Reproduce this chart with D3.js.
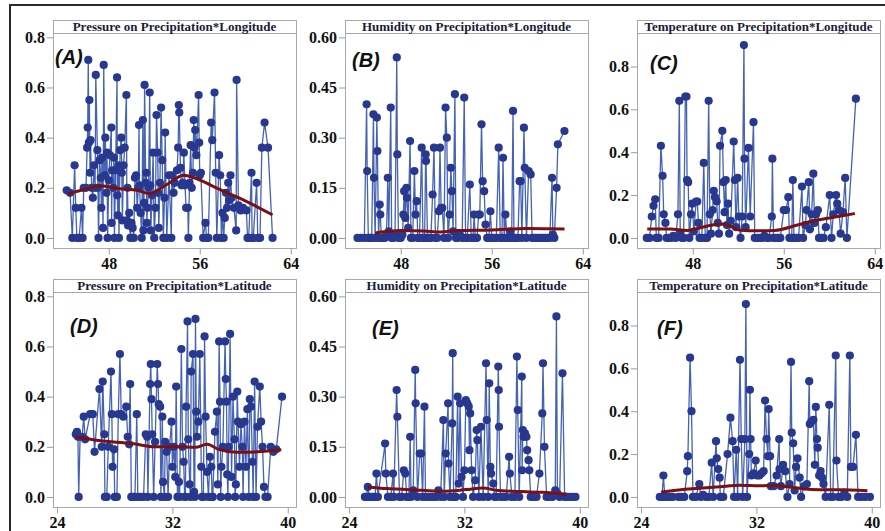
<!DOCTYPE html>
<html>
<head>
<meta charset="utf-8">
<script src="https://cdn.jsdelivr.net/npm/d3@7"></script>
<style>
  body { margin: 0; background: #fff; }
  .axis .tick text { font-family: "Liberation Serif", "Times New Roman", serif; font-weight: bold; font-size: 16px; fill: #111; }
  .axis line { stroke: #9a9a9a; }
  .title { font-family: "Liberation Serif", "Times New Roman", serif; font-weight: bold; font-size: 13px; fill: #1a1a3a; }
  .plabel { font-family: "Liberation Sans", Arial, sans-serif; font-weight: bold; font-style: italic; font-size: 20px; fill: #111; }
</style>
</head>
<body>
<div id="chart"></div>
<script>
// tick values
const lonTicks = [48, 56, 64];
const latTicks = [24, 32, 40];
const pressureTicks = [0, 0.2, 0.4, 0.6, 0.8];
const humidityTicks = [0, 0.15, 0.30, 0.45, 0.60];
const tempTicks = [0, 0.2, 0.4, 0.6, 0.8];

// (A) Pressure on Precipitation*Longitude  [longitude, value]
const pressureLon = [
  [44.3,.19],[44.6,.18],[44.8,0],[45.0,.29],[45.1,.12],[45.2,0],[45.4,0],[45.6,.12],[45.7,0],[45.8,.2],[46.0,.2],
  [46.1,.36],[46.15,.44],[46.2,.71],[46.25,.38],[46.3,.55],[46.35,.26],[46.4,.39],[46.5,.2],[46.6,.16],[46.7,.29],
  [46.8,.2],[46.86,.65],[47.0,.35],[47.05,.2],[47.1,0],[47.2,.31],[47.3,.24],[47.35,.12],[47.4,.32],[47.5,.04],
  [47.56,.69],[47.65,.25],[47.7,.4],[47.8,.18],[47.85,.34],[47.9,0],[48.0,.23],[48.1,.33],[48.23,.44],[48.25,.06],
  [48.3,.27],[48.4,.2],[48.45,.32],[48.5,0],[48.6,.27],[48.73,.64],[48.75,.17],[48.8,.09],[48.85,.29],[48.9,0],
  [49.0,.35],[49.1,.4],[49.15,.26],[49.2,.07],[49.3,.29],[49.4,.36],[49.55,.57],[49.6,.07],[49.65,.2],[49.7,.05],
  [49.8,.1],[49.9,0],[50.0,.06],[50.1,.04],[50.2,0],[50.3,.24],[50.4,.25],[50.5,.12],[50.6,.2],[50.66,.45],[50.7,.21],
  [50.8,.1],[50.9,0],[51.0,.47],[51.05,.03],[51.1,.14],[51.15,.61],[51.25,.22],[51.3,.26],[51.35,.06],[51.4,.12],
  [51.5,.2],[51.6,.58],[51.65,.21],[51.7,.03],[51.8,.17],[51.9,.34],[52.0,0],[52.1,.12],[52.2,.49],[52.3,.34],
  [52.35,.18],[52.4,.04],[52.5,.22],[52.6,.52],[52.7,.31],[52.8,0],[52.9,.16],[52.96,.42],[53.1,0],[53.3,.25],
  [53.5,0],[53.55,.25],[53.7,.18],[53.8,.22],[54.0,.27],[54.1,.36],[54.16,.53],[54.2,.5],[54.3,.28],[54.4,.21],
  [54.5,.22],[54.6,.34],[54.7,.21],[54.8,.12],[54.95,.12],[55.0,0],[55.1,.22],[55.2,.37],[55.3,.2],[55.4,.26],
  [55.47,.47],[55.55,.36],[55.6,.43],[55.7,.33],[55.9,.57],[55.95,.38],[56.0,.25],[56.1,.26],[56.3,0],[56.5,.06],
  [56.6,0],[56.75,0],[57.0,.46],[57.1,.39],[57.3,.58],[57.4,.26],[57.5,0],[57.7,.33],[57.8,.25],[57.9,0],[58.0,.1],
  [58.1,0],[58.2,.08],[58.3,.18],[58.4,.12],[58.5,.22],[58.6,.15],[58.7,.25],[58.8,.16],[59.0,.12],[59.2,.03],
  [59.24,.63],[59.4,.13],[59.6,.11],[59.8,.12],[60.1,.11],[60.2,0],[60.3,0],[60.55,.26],[60.6,0],[60.7,0],[61.0,.22],
  [61.1,0],[61.3,0],[61.46,.36],[61.7,.46],[62.0,.36],[62.4,0]
];
const pressureLonTrend = [[44.4,.175],[46,.195],[47.3,.208],[49,.196],[50.5,.19],[51.6,.177],[53,.21],[54.6,.25],
  [55.5,.24],[57,.21],[58.5,.178],[60,.148],[61,.125],[62.4,.092]];

// (B) Humidity on Precipitation*Longitude
const humidityLon = [
  [44.2,0],[44.5,0],[44.8,0],[45.0,.40],[45.05,.20],[45.15,0],[45.3,0],[45.45,0],[45.6,.37],[45.65,.18],[45.75,0],
  [45.9,.36],[45.95,.26],[46.05,0],[46.15,.10],[46.2,.07],[46.3,0],[46.45,0],[46.6,0],[46.75,.01],[46.86,.18],
  [46.95,.02],[47.12,.39],[47.2,0],[47.35,0],[47.5,.01],[47.65,.54],[47.7,.25],[47.8,0],[48.0,0],[48.15,.01],
  [48.23,.07],[48.3,.14],[48.4,.06],[48.5,.15],[48.55,.12],[48.65,.03],[48.82,.29],[48.9,0],[49.05,0],[49.2,.20],
  [49.3,.07],[49.4,.11],[49.5,0],[49.65,0],[49.84,.27],[49.95,0],[50.1,0],[50.19,.25],[50.22,.23],[50.35,0],
  [50.5,0],[50.65,0],[50.8,.13],[50.92,.27],[51.05,0],[51.2,0],[51.35,.08],[51.45,.27],[51.55,.09],[51.65,.09],
  [51.8,0],[51.94,.39],[52.05,.30],[52.15,0],[52.3,.07],[52.4,.21],[52.5,.14],[52.6,.02],[52.76,.43],[52.85,0],
  [53.0,0],[53.2,.01],[53.4,0],[53.58,.42],[53.7,0],[53.85,0],[54.07,.16],[54.2,0],[54.35,0],[54.45,.07],[54.55,0],
  [54.7,0],[54.85,.07],[54.95,.07],[55.1,.34],[55.2,.17],[55.33,.14],[55.45,.04],[55.6,0],[55.75,0],[55.88,.08],
  [56.0,0],[56.2,0],[56.4,0],[56.61,.27],[56.75,0],[56.9,0],[56.99,.24],[57.1,0],[57.2,.07],[57.35,0],[57.5,0],
  [57.64,.02],[57.75,0],[57.87,.38],[57.95,0],[58.1,0],[58.3,0],[58.45,.17],[58.54,.17],[58.65,0],[58.83,.33],
  [58.9,.21],[59.05,0],[59.24,.20],[59.42,.19],[59.55,0],[59.7,0],[59.9,0],[60.1,0],[60.3,0],[60.5,0],[60.7,0],
  [60.9,0],[61.1,0],[61.3,.18],[61.37,.01],[61.5,0],[61.7,.15],[61.81,.28],[62.39,.32]
];
const humidityLonTrend = [[45.75,.015],[47,.02],[48,.022],[50,.021],[51.5,.018],[53,.022],[56,.024],[59,.028],[62.4,.027]];

// (C) Temperature on Precipitation*Longitude
const tempLon = [
  [43.96,0],[44.2,0],[44.4,.1],[44.55,.15],[44.7,.18],[44.8,0],[45.0,0],[45.2,.43],[45.35,.29],[45.45,.11],[45.6,.07],
  [45.7,0],[45.9,0],[46.1,0],[46.3,.01],[46.5,0],[46.7,.11],[46.82,.64],[46.9,.02],[47.05,0],[47.2,0],[47.35,.66],
  [47.45,.66],[47.5,.27],[47.6,.26],[47.7,0],[47.85,.11],[47.95,.16],[48.1,.03],[48.3,.17],[48.4,.17],[48.5,.07],
  [48.6,0],[48.8,0],[48.97,.35],[49.1,0],[49.25,0],[49.4,.64],[49.5,.11],[49.6,.02],[49.75,.13],[49.85,.22],
  [49.95,.19],[50.1,.17],[50.2,.07],[50.3,.02],[50.4,.43],[50.6,.50],[50.7,.26],[50.8,.12],[50.9,.27],[51.0,.06],
  [51.1,.16],[51.2,.02],[51.35,.08],[51.6,.45],[51.7,.27],[51.8,.05],[51.95,.28],[52.05,.1],[52.2,0],[52.35,.1],
  [52.5,.90],[52.55,.37],[52.65,.05],[52.9,.42],[53.05,.1],[53.34,.54],[53.45,0],[53.7,0],[53.9,0],[54.1,0],
  [54.3,.01],[54.5,0],[54.7,0],[54.95,.1],[55.0,.37],[55.1,0],[55.3,0],[55.5,0],[55.7,0],[56.0,.13],[56.2,.13],
  [56.4,.19],[56.5,0],[56.7,0],[56.8,.27],[56.9,0],[57.1,0],[57.3,0],[57.6,.24],[57.7,0],[57.9,.06],[58.0,.13],
  [58.2,.26],[58.3,.04],[58.45,.11],[58.6,.30],[58.7,.07],[58.85,.11],[59.0,.13],[59.1,0],[59.3,0],[59.5,0],
  [59.7,.05],[60.04,.20],[60.2,0],[60.35,.11],[60.6,.20],[60.7,.16],[60.85,.13],[61.0,.02],[61.2,.12],[61.4,.28],
  [61.55,0],[62.34,.65]
];
const tempLonTrend = [[44,.042],[46,.042],[47.5,.035],[49.3,.056],[50.7,.065],[52.2,.036],[53.7,.033],[55.2,.035],
  [57.2,.06],[58.7,.081],[60.8,.1],[62.25,.114]];

// (D) Pressure on Precipitation*Latitude  [latitude, value]
const pressureLat = [
  [25.3,.25],[25.38,.26],[25.45,.24],[25.5,0],[25.6,.24],[25.74,.24],[25.85,.32],[25.95,.23],[26.3,.33],[26.48,.33],
  [26.6,.18],[26.94,.43],[27.1,.2],[27.17,.46],[27.28,.25],[27.32,0],[27.45,0],[27.55,.2],[27.74,.5],[27.8,.33],
  [27.85,.12],[27.95,.19],[28.0,0],[28.15,0],[28.25,.33],[28.36,.57],[28.45,.33],[28.6,.32],[28.8,.36],[28.9,.24],
  [29.0,.21],[29.07,.45],[29.15,0],[29.25,0],[29.4,0],[29.53,.33],[29.6,0],[29.8,0],[30.0,0],[30.15,.25],[30.25,.24],
  [30.3,0],[30.45,.45],[30.5,.53],[30.55,.39],[30.6,.25],[30.7,0],[30.8,.22],[30.95,.53],[31.0,.45],[31.05,.37],
  [31.15,.36],[31.2,0],[31.3,.32],[31.35,.06],[31.45,0],[31.5,.22],[31.6,.18],[31.7,0],[31.8,.2],[31.94,.3],[32.0,.12],
  [32.1,.2],[32.2,.08],[32.26,.44],[32.35,0],[32.45,.06],[32.5,0],[32.62,.59],[32.7,.2],[32.78,.14],[32.85,0],[32.9,0],
  [32.95,.36],[33.05,.7],[33.1,.23],[33.2,.05],[33.25,0],[33.3,.5],[33.43,.57],[33.5,.02],[33.55,0],[33.6,.71],
  [33.65,.34],[33.7,.24],[33.8,.3],[33.9,.57],[34.0,.12],[34.05,0],[34.15,0],[34.23,.64],[34.3,.32],[34.4,.1],[34.5,0],
  [34.6,.16],[34.7,.12],[34.75,0],[34.8,0],[34.95,.26],[35.08,.34],[35.15,.05],[35.24,.62],[35.3,.38],[35.35,0],
  [35.4,.12],[35.5,.2],[35.65,.62],[35.7,.47],[35.75,.38],[35.8,.09],[35.85,0],[35.9,.2],[36.0,.65],[36.1,.08],
  [36.2,.4],[36.3,.23],[36.35,0],[36.4,.05],[36.5,.42],[36.55,.3],[36.65,.12],[36.75,.29],[36.85,.2],[36.9,0],[37.0,.3],
  [37.1,.12],[37.2,.35],[37.3,0],[37.37,.39],[37.45,.36],[37.55,.14],[37.6,0],[37.7,.46],[37.8,0],[37.9,.28],
  [38.06,.44],[38.15,.3],[38.25,.2],[38.35,.04],[38.45,0],[38.6,0],[38.82,.2],[39.0,.18],[39.2,.19],[39.6,.4]
];
const pressureLatTrend = [[25.3,.24],[26.9,.225],[29.2,.213],[30.8,.2],[32.2,.2],[33.6,.198],[34.4,.21],[35.2,.19],
  [36.5,.178],[37.9,.18],[39.55,.188]];

// (E) Humidity on Precipitation*Latitude
const humidityLat = [
  [25.1,0],[25.2,0],[25.3,.03],[25.4,0],[25.5,0],[25.65,0],[25.8,0],[25.9,.07],[26.0,0],[26.5,.16],[26.55,.07],
  [26.7,0],[26.9,0],[27.05,.07],[27.1,0],[27.3,.32],[27.35,.24],[27.5,0],[27.65,0],[27.8,.08],[27.9,.07],[28.0,0],
  [28.15,0],[28.24,.18],[28.3,0],[28.45,.02],[28.59,.38],[28.62,.28],[28.75,0],[28.9,.13],[29.0,.13],[29.1,0],
  [29.23,.27],[29.3,0],[29.5,0],[29.7,0],[29.9,0],[30.05,0],[30.2,.02],[30.35,0],[30.54,.23],[30.6,0],[30.7,.13],
  [30.87,.28],[30.9,.1],[31.0,0],[31.15,.22],[31.19,.43],[31.25,0],[31.4,0],[31.53,.30],[31.6,.04],[31.7,.28],
  [31.8,.06],[31.9,0],[32.0,.08],[32.1,.29],[32.2,.28],[32.3,.27],[32.35,.14],[32.4,.25],[32.5,.08],[32.6,0],
  [32.75,.05],[32.85,.20],[32.9,.17],[33.0,0],[33.15,.21],[33.3,0],[33.5,.40],[33.55,.23],[33.65,0],[33.72,.34],
  [33.8,.09],[33.85,.07],[34.0,.04],[34.1,0],[34.2,0],[34.35,.39],[34.38,.32],[34.4,.21],[34.5,0],[34.7,0],[34.9,0],
  [35.1,.12],[35.15,.07],[35.3,0],[35.5,0],[35.64,.42],[35.7,.26],[35.8,0],[35.98,.36],[36.0,.08],[36.05,.20],
  [36.1,.18],[36.2,.19],[36.3,.18],[36.35,.14],[36.45,.11],[36.5,.08],[36.6,0],[36.8,0],[37.0,0],[37.2,.07],
  [37.4,.25],[37.45,.40],[37.55,.15],[37.7,0],[37.9,0],[38.1,0],[38.3,.02],[38.38,.54],[38.45,.01],[38.6,0],
  [38.8,.37],[38.95,0],[39.1,0],[39.3,0],[39.5,0],[39.7,0]
];
const humidityLatTrend = [[25.3,.03],[26.6,.025],[29.1,.02],[30.5,.017],[32.1,.022],[33.3,.027],[34.2,.02],
  [36,.016],[37.4,.014],[39.1,.008]];

// (F) Temperature on Precipitation*Latitude
const tempLat = [
  [25.3,0],[25.45,0],[25.55,.10],[25.65,0],[25.8,0],[26.0,0],[26.2,0],[26.6,0],[26.8,0],[27.0,0],[27.2,.12],
  [27.25,.19],[27.4,.65],[27.5,.4],[27.6,0],[27.8,0],[28.04,.06],[28.15,0],[28.3,.01],[28.5,0],[28.7,0],[28.9,.16],
  [29.0,0],[29.2,.26],[29.25,.18],[29.35,.13],[29.45,.09],[29.5,0],[29.7,0],[30.0,.2],[30.2,.37],[30.35,.26],
  [30.45,0],[30.6,.22],[30.7,0],[30.86,.64],[30.95,.27],[31.05,0],[31.2,.27],[31.27,.90],[31.35,0],[31.5,.2],
  [31.55,.50],[31.6,.27],[31.65,.1],[31.8,.11],[31.95,.17],[32.05,.1],[32.2,.1],[32.35,.11],[32.5,.12],[32.6,.45],
  [32.7,.27],[32.8,.19],[32.85,.41],[32.95,.19],[33.0,.05],[33.2,.05],[33.4,.1],[33.58,.27],[33.6,.13],[33.7,.05],
  [33.85,.15],[34.0,.12],[34.15,0],[34.3,.06],[34.4,.63],[34.45,.30],[34.55,.25],[34.65,.03],[34.75,.14],[34.85,.18],
  [35.0,.09],[35.1,0],[35.3,.05],[35.5,.06],[35.66,.54],[35.7,.34],[35.8,.35],[35.95,.36],[36.05,.15],[36.12,.42],
  [36.2,.27],[36.25,.23],[36.35,.1],[36.45,.12],[36.55,.09],[36.65,.06],[36.8,0],[37.05,.43],[37.15,0],[37.3,0],
  [37.5,.66],[37.55,.17],[37.7,0],[37.9,0],[38.1,.02],[38.3,0],[38.48,.66],[38.55,.14],[38.7,.14],[38.9,.29],
  [39.05,0],[39.3,0],[39.55,0],[39.87,0]
];
const tempLatTrend = [[25.4,.023],[26.9,.035],[28.3,.042],[29.9,.05],[30.8,.055],[32.4,.052],[33.1,.054],[34.3,.046],
  [35.2,.038],[36.4,.034],[37.7,.034],[39.7,.029]];

document.addEventListener('DOMContentLoaded', () => {

  const W = 885, H = 531;
  const colX = [53, 345, 637];
  const rowY = [20, 279];
  const pw = 243, ph = 228, titleH = 13;

  const panels = [
    { title: "Pressure on Precipitation*Longitude", label: "(A)", data: pressureLon, trend: pressureLonTrend,
      xTicks: lonTicks, xDom: [43.1, 64.46], yTicks: pressureTicks, yDom: [-0.04, 0.869], fmt: ".1f", col: 0, row: 0, lx: 2, ly: 44 },
    { title: "Humidity on Precipitation*Longitude", label: "(B)", data: humidityLon, trend: humidityLonTrend,
      xTicks: lonTicks, xDom: [43.1, 64.46], yTicks: humidityTicks, yDom: [-0.03, 0.652], fmt: ".2f", col: 1, row: 0, lx: 7, ly: 47 },
    { title: "Temperature on Precipitation*Longitude", label: "(C)", data: tempLon, trend: tempLonTrend,
      xTicks: lonTicks, xDom: [43.1, 64.46], yTicks: tempTicks, yDom: [-0.047, 1.017], fmt: ".1f", col: 2, row: 0, lx: 13, ly: 50 },
    { title: "Pressure on Precipitation*Latitude", label: "(D)", data: pressureLat, trend: pressureLatTrend,
      xTicks: latTicks, xDom: [23.72, 40.57], yTicks: pressureTicks, yDom: [-0.04, 0.869], fmt: ".1f", col: 0, row: 1, lx: 17, ly: 54 },
    { title: "Humidity on Precipitation*Latitude", label: "(E)", data: humidityLat, trend: humidityLatTrend,
      xTicks: latTicks, xDom: [23.72, 40.57], yTicks: humidityTicks, yDom: [-0.03, 0.652], fmt: ".2f", col: 1, row: 1, lx: 27, ly: 56 },
    { title: "Temperature on Precipitation*Latitude", label: "(F)", data: tempLat, trend: tempLatTrend,
      xTicks: latTicks, xDom: [23.72, 40.57], yTicks: tempTicks, yDom: [-0.047, 1.017], fmt: ".1f", col: 2, row: 1, lx: 20, ly: 56 }
  ];

  const svg = d3.select("#chart").append("svg")
    .attr("width", W)
    .attr("height", H);

  svg.append("rect").attr("width", W).attr("height", H).attr("fill", "#fff");

  // outer frame (only top and left edges are visible)
  svg.append("path")
    .attr("d", `M10,${H} L10,5 L${W},5`)
    .attr("fill", "none")
    .attr("stroke", "#2a2a2a")
    .attr("stroke-width", 2);

  panels.forEach(p => {
    const left = colX[p.col], top = rowY[p.row];

    const x = d3.scaleLinear().domain(p.xDom).range([left, left + pw]);
    const y = d3.scaleLinear().domain(p.yDom).range([top + ph, top]);

    const g = svg.append("g");

    // plot frame
    g.append("rect")
      .attr("x", left + 0.5).attr("y", top + 0.5)
      .attr("width", pw).attr("height", ph)
      .attr("fill", "#fff")
      .attr("stroke", "#a8a8a8");

    // title strip
    g.append("rect")
      .attr("x", left + 0.5).attr("y", top + 0.5)
      .attr("width", pw).attr("height", titleH)
      .attr("fill", "#fff")
      .attr("stroke", "#a8a8a8");

    g.append("text")
      .attr("class", "title")
      .attr("x", left + pw / 2)
      .attr("y", top + titleH - 2)
      .attr("text-anchor", "middle")
      .text(p.title);

    // blue series line
    const line = d3.line().x(d => x(d[0])).y(d => y(d[1]));
    g.append("path")
      .datum(p.data)
      .attr("d", line)
      .attr("fill", "none")
      .attr("stroke", "#4563b2")
      .attr("stroke-width", 1.3);

    g.append("g")
      .selectAll("circle")
      .data(p.data)
      .join("circle")
      .attr("cx", d => x(d[0]))
      .attr("cy", d => y(d[1]))
      .attr("r", 4.1)
      .attr("fill", "#27388e");

    // smooth fit
    g.append("path")
      .datum(p.trend)
      .attr("d", d3.line().x(d => x(d[0])).y(d => y(d[1])).curve(d3.curveMonotoneX))
      .attr("fill", "none")
      .attr("stroke", "#7a1010")
      .attr("stroke-width", 3);

    // axes
    const ay = g.append("g")
      .attr("class", "axis")
      .attr("transform", `translate(${left},0)`)
      .call(d3.axisLeft(y).tickValues(p.yTicks).tickSize(6).tickPadding(2).tickFormat(d3.format(p.fmt)));
    ay.select(".domain").remove();

    const ax = g.append("g")
      .attr("class", "axis")
      .attr("transform", `translate(0,${top + ph + 0.5})`)
      .call(d3.axisBottom(x).tickValues(p.xTicks).tickSize(6).tickPadding(3));
    ax.select(".domain").remove();

    // panel letter
    g.append("text")
      .attr("class", "plabel")
      .attr("x", left + p.lx)
      .attr("y", top + p.ly)
      .text(p.label);
  });
});
</script>
</body>
</html>
